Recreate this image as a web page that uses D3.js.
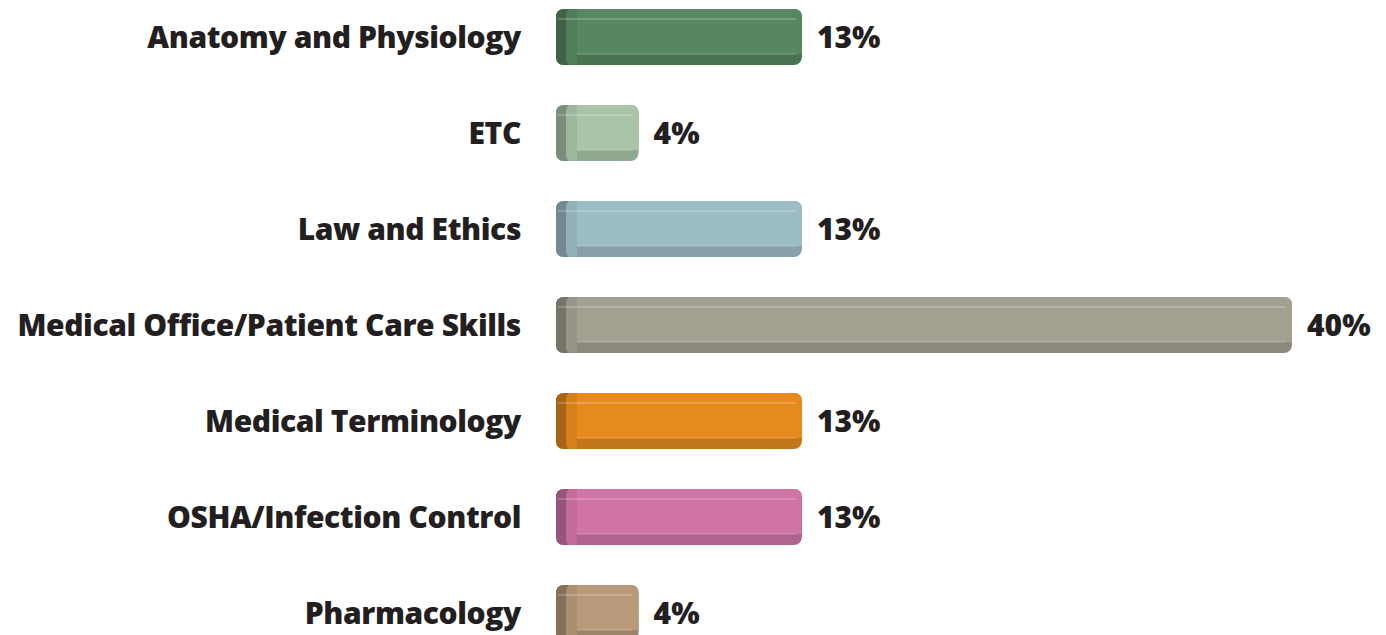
<!DOCTYPE html>
<html>
<head>
<meta charset="utf-8">
<script src="https://cdn.jsdelivr.net/npm/d3@7"></script>
<style>
  body { margin: 0; background: #fff; }
  text { font-family: "Open Sans", "Liberation Sans", sans-serif; font-weight: 800; fill: #231f20; }
</style>
</head>
<body>
<div id="chart"></div>
<script>
// data
const categories = [
    "Anatomy and Physiology",
    "ETC",
    "Law and Ethics",
    "Medical Office/Patient Care Skills",
    "Medical Terminology",
    "OSHA/Infection Control",
    "Pharmacology"
];
const percents = [13, 4, 13, 40, 13, 13, 4];
const barColors = ["#578760", "#a9c4a9", "#9dbdc6", "#a3a092", "#e68a1e", "#cf74a5", "#b89a7a"];

const width = 1386, height = 635;
const barH = 56;
const capW = 10;   // dark left end
const bevelW = 11; // lighter left strip
const topH = 10, botH = 11;

const svg = d3.select("#chart").append("svg")
    .attr("width", width)
    .attr("height", height);

const x = d3.scaleLinear().domain([0, 40]).range([566, 1292]);
const y = d3.scalePoint().domain(categories).range([37, 613]);

const rows = categories.map((c, i) => ({ cat: c, v: percents[i], color: barColors[i] }));

const g = svg.selectAll("g.row")
    .data(rows)
    .join("g")
    .attr("class", "row")
    .attr("transform", d => `translate(0,${y(d.cat) - barH / 2})`);

// bottom (darker) body
g.append("rect")
    .attr("x", d => x(0) - capW)
    .attr("y", 0)
    .attr("width", d => x(d.v) - x(0) + capW)
    .attr("height", barH)
    .attr("rx", 8)
    .attr("fill", d => d3.color(d.color).darker(0.45));

// front face
g.append("rect")
    .attr("x", d => x(0))
    .attr("y", 0)
    .attr("width", d => x(d.v) - x(0))
    .attr("height", barH - botH)
    .attr("rx", 7)
    .attr("fill", d => d.color);

g.append("rect")
    .attr("x", d => x(0) + 4)
    .attr("y", barH - botH - 8)
    .attr("width", d => x(d.v) - x(0) - 4)
    .attr("height", 8)
    .attr("fill", d => d.color);

// dark left cap
g.append("path")
    .attr("d", d => {
        const x0 = x(0) - capW, x1 = x(0) + 2;
        return `M${x1},0 L${x0 + 8},0 Q${x0},0 ${x0},8 L${x0},${barH - 8} Q${x0},${barH} ${x0 + 8},${barH} L${x1},${barH} Z`;
    })
    .attr("fill", d => d3.color(d.color).darker(0.9));

// left strip
g.append("path")
    .attr("d", d => {
        const x0 = x(0), x1 = x(0) + bevelW;
        return `M${x0 + 6},0 L${x1},0 L${x1},${barH} L${x0 + 6},${barH} Q${x0},${barH} ${x0},${barH - 6} L${x0},6 Q${x0},0 ${x0 + 6},0 Z`;
    })
    .attr("fill", d => d3.color(d.color).darker(0.2));

// highlight lines
g.append("line")
    .attr("x1", d => x(0) - capW + 2)
    .attr("x2", d => x(d.v) - 6)
    .attr("y1", topH).attr("y2", topH)
    .attr("stroke", "#fff").attr("stroke-opacity", 0.4).attr("stroke-width", 1);

g.append("line")
    .attr("x1", d => x(0) + bevelW)
    .attr("x2", d => x(d.v) - 6)
    .attr("y1", barH - botH).attr("y2", barH - botH)
    .attr("stroke", "#fff").attr("stroke-opacity", 0.3).attr("stroke-width", 1);

// category labels
svg.selectAll("text.cat")
    .data(rows)
    .join("text")
    .attr("class", "cat")
    .attr("x", 521)
    .attr("y", d => y(d.cat))
    .attr("dy", "0.35em")
    .attr("text-anchor", "end")
    .attr("font-size", 30)
    .attr("letter-spacing", -0.4)
    .text(d => d.cat);

// value labels
svg.selectAll("text.val")
    .data(rows)
    .join("text")
    .attr("class", "val")
    .attr("x", d => x(d.v) + 15)
    .attr("y", d => y(d.cat))
    .attr("dy", "0.35em")
    .attr("font-size", 30)
    .text(d => d.v + "%");
</script>
</body>
</html>
